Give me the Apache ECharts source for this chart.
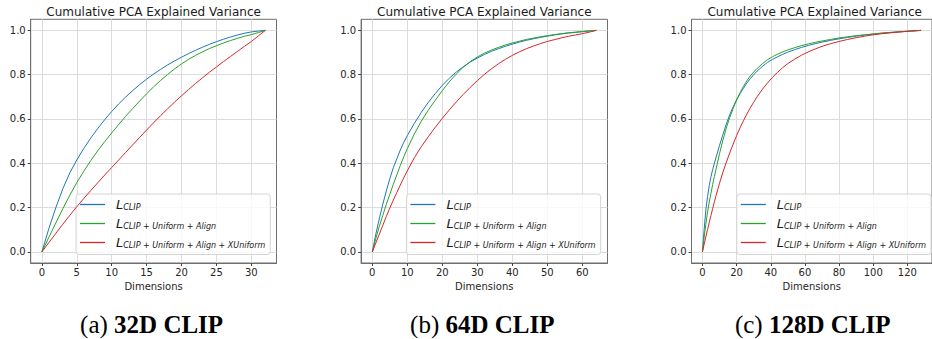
<!DOCTYPE html>
<html><head><meta charset="utf-8">
<script src="https://cdn.jsdelivr.net/npm/echarts@6/dist/echarts.min.js"></script>
<style>html,body{margin:0;padding:0;background:#fff}#c{width:932px;height:339px}</style>
</head><body><div id="c"></div>
<script>
const chartTitle = 'Cumulative PCA Explained Variance';
const xName = 'Dimensions';
const seriesNames = ['CLIP', 'CLIP + Uniform + Align', 'CLIP + Uniform + Align + XUniform'];
const colors = ['#1f77b4', '#2ca02c', '#d62728'];
const yTicks = [0, 0.2, 0.4, 0.6, 0.8, 1.0];
const xTicks32 = [0, 5, 10, 15, 20, 25, 30];
const xTicks64 = [0, 10, 20, 30, 40, 50, 60];
const xTicks128 = [0, 20, 40, 60, 80, 100, 120];
const captionTag = ['(a)', '(b)', '(c)'];
const captionText = ['32D CLIP', '64D CLIP', '128D CLIP'];

const dims32 = [0,1,2,3,4,5,6,7,8,9,10,11,12,13,14,15,16,17,18,19,20,21,22,23,24,25,26,27,28,29,30,31,32];
const clip32 = [0,0.105,0.2,0.285,0.357,0.415,0.467,0.514,0.557,0.597,0.634,0.668,0.699,0.728,0.755,0.78,0.803,0.824,0.844,0.862,0.879,0.895,0.91,0.924,0.937,0.949,0.96,0.97,0.979,0.987,0.993,0.997,1.0];
const ua32 = [0,0.066,0.131,0.195,0.256,0.313,0.364,0.412,0.457,0.498,0.537,0.575,0.612,0.647,0.681,0.714,0.745,0.774,0.801,0.826,0.849,0.869,0.887,0.903,0.918,0.931,0.943,0.954,0.964,0.973,0.981,0.99,1.0];
const xu32 = [0,0.042,0.084,0.125,0.165,0.204,0.241,0.277,0.312,0.347,0.381,0.415,0.449,0.483,0.517,0.55,0.583,0.615,0.646,0.676,0.705,0.733,0.76,0.786,0.811,0.835,0.859,0.882,0.905,0.928,0.95,0.975,1.0];

const dims64 = [0,1,2,3,4,5,6,7,8,9,10,12,14,16,18,20,22,24,26,28,30,32,34,36,38,40,42,44,46,48,50,52,54,56,58,60,62,64];
const clip64 = [0,0.08,0.15,0.215,0.275,0.33,0.38,0.42,0.46,0.495,0.525,0.58,0.63,0.675,0.715,0.752,0.784,0.812,0.836,0.857,0.875,0.891,0.905,0.917,0.928,0.938,0.947,0.955,0.962,0.968,0.974,0.979,0.984,0.988,0.991,0.994,0.997,1.0];
const ua64 = [0,0.06,0.115,0.165,0.215,0.26,0.305,0.348,0.39,0.43,0.466,0.532,0.59,0.64,0.685,0.728,0.768,0.803,0.834,0.859,0.88,0.897,0.911,0.923,0.934,0.943,0.951,0.959,0.965,0.971,0.976,0.981,0.985,0.989,0.992,0.995,0.998,1.0];
const xu64 = [0,0.04,0.08,0.12,0.16,0.198,0.234,0.268,0.302,0.335,0.366,0.425,0.475,0.52,0.563,0.603,0.641,0.677,0.711,0.743,0.773,0.801,0.826,0.849,0.869,0.887,0.903,0.917,0.929,0.94,0.95,0.958,0.966,0.973,0.979,0.985,0.992,1.0];

const dims128 = [0,1,2,3,4,5,6,7,8,10,12,14,16,18,20,22,24,26,28,30,32,35,38,41,44,47,50,54,58,62,66,70,75,80,85,90,95,100,105,110,116,122,128];
const clip128 = [0,0.1,0.19,0.25,0.3,0.34,0.372,0.4,0.428,0.48,0.53,0.577,0.62,0.655,0.686,0.714,0.739,0.762,0.782,0.8,0.816,0.837,0.855,0.869,0.881,0.892,0.902,0.913,0.923,0.932,0.94,0.947,0.955,0.962,0.968,0.974,0.979,0.983,0.987,0.99,0.994,0.997,1.0];
const ua128 = [0,0.065,0.125,0.18,0.225,0.265,0.305,0.34,0.375,0.443,0.505,0.56,0.607,0.648,0.686,0.718,0.747,0.772,0.794,0.812,0.828,0.849,0.867,0.881,0.893,0.903,0.912,0.922,0.931,0.939,0.946,0.952,0.959,0.966,0.971,0.976,0.98,0.984,0.988,0.991,0.994,0.997,1.0];
const xu128 = [0,0.034,0.068,0.101,0.133,0.165,0.196,0.226,0.255,0.31,0.36,0.405,0.447,0.487,0.525,0.56,0.592,0.622,0.65,0.676,0.70,0.733,0.762,0.788,0.811,0.832,0.85,0.87,0.888,0.903,0.916,0.928,0.94,0.95,0.959,0.967,0.974,0.98,0.985,0.989,0.993,0.997,1.0];

const panels = [
  {dims: dims32, vals: [clip32, ua32, xu32], xTicks: xTicks32, xRange: [-1.6, 33.6]},
  {dims: dims64, vals: [clip64, ua64, xu64], xTicks: xTicks64, xRange: [-3.2, 67.2]},
  {dims: dims128, vals: [clip128, ua128, xu128], xTicks: xTicks128, xRange: [-6.4, 134.4]}
];
const gridBoxes = [
  {left: 30.7, top: 19.3, width: 245.8, height: 243.7},
  {left: 361.1, top: 19.3, width: 246.4, height: 243.7},
  {left: 691.5, top: 19.3, width: 246.4, height: 243.7}
];

const FONT = 'DejaVu Sans';
const frameColor = '#6f6f6f';
const gridColor = '#dcdcdc';
const labelColor = '#262626';

const chart = echarts.init(document.getElementById('c'), null, {renderer: 'svg', width: 932, height: 339});

const grids = gridBoxes.map(g => ({left: g.left, top: g.top, width: g.width, height: g.height,
  show: true, borderColor: frameColor, borderWidth: 1, containLabel: false}));

const xAxes = panels.map((p, i) => ({
  type: 'value', gridIndex: i, min: p.xRange[0], max: p.xRange[1],
  name: xName, nameLocation: 'middle', nameGap: 14,
  nameTextStyle: {fontFamily: FONT, fontSize: 10, color: labelColor},
  axisLine: {show: true, onZero: false, lineStyle: {color: frameColor, width: 1}},
  axisTick: {show: true, length: 3, customValues: p.xTicks, lineStyle: {color: '#444', width: 1}},
  axisLabel: {customValues: p.xTicks, margin: 4, fontFamily: FONT, fontSize: 10, color: labelColor,
    formatter: v => String(v)},
  splitLine: {show: true, customValues: p.xTicks, lineStyle: {color: gridColor, width: 1}}
}));

const yAxes = panels.map((p, i) => ({
  type: 'value', gridIndex: i, min: -0.05, max: 1.05,
  axisLine: {show: true, onZero: false, lineStyle: {color: frameColor, width: 1}},
  axisTick: {show: true, length: 3, customValues: yTicks, lineStyle: {color: '#444', width: 1}},
  axisLabel: {customValues: yTicks, margin: 5, fontFamily: FONT, fontSize: 10, color: labelColor,
    formatter: v => v.toFixed(1)},
  splitLine: {show: true, customValues: yTicks, lineStyle: {color: gridColor, width: 1}}
}));

const series = [];
panels.forEach((p, i) => {
  p.vals.forEach((vals, k) => {
    series.push({
      type: 'line', name: seriesNames[k], xAxisIndex: i, yAxisIndex: i,
      data: p.dims.map((d, j) => [d, vals[j]]),
      symbol: 'none', smooth: false, silent: true, animation: false,
      lineStyle: {color: colors[k], width: 1}, itemStyle: {color: colors[k]}, z: 3 + k
    });
  });
});

const legendRich = {
  L: {fontFamily: FONT, fontStyle: 'italic', fontSize: 13, color: '#1a1a1a', padding: [0, 0, 0, 6], lineHeight: 16},
  s: {fontFamily: FONT, fontStyle: 'italic', fontSize: 8, color: '#1a1a1a', padding: [6, 0, 0, 0]},
  p: {fontFamily: FONT, fontSize: 8, color: '#1a1a1a', padding: [6, 0, 0, 0]}
};
const legends = gridBoxes.map((g, i) => ({
  orient: 'vertical', left: g.left + 45.3, top: 194,
  data: seriesNames.map((n, k) => ({name: n, icon: 'rect', itemStyle: {color: colors[k]}})),
  selectedMode: false,
  icon: 'rect', itemWidth: 25, itemHeight: 1.3, itemGap: 5.5,
  padding: [4, 5, 5, 4],
  backgroundColor: 'rgba(255,255,255,0.8)', borderColor: '#d4d4d4', borderWidth: 1, borderRadius: 3,
  formatter: name => '{L|L}' + name.split(' + ').map(t => '{s|' + t + '}').join('{p| + }'),
  textStyle: {rich: legendRich}
}));

const graphics = [];
gridBoxes.forEach((g, i) => {
  graphics.push({type: 'text', x: g.left + g.width / 2, y: 12, silent: true,
    style: {text: chartTitle, fontFamily: FONT, fontSize: 12, fill: '#1a1a1a', align: 'center', verticalAlign: 'middle'}});
  graphics.push({type: 'text', x: g.left + g.width / 2 - 2, y: 324, silent: true,
    style: {text: '{n|' + captionTag[i] + ' }{b|' + captionText[i] + '}', align: 'center', verticalAlign: 'middle',
      rich: {n: {fontFamily: 'Liberation Serif', fontSize: 25, fill: '#000'},
             b: {fontFamily: 'Liberation Serif', fontSize: 25, fontWeight: 'bold', fill: '#000'}}}});
});

chart.setOption({
  animation: false,
  backgroundColor: '#ffffff',
  grid: grids, xAxis: xAxes, yAxis: yAxes, series: series,
  legend: legends, graphic: graphics
});
</script></body></html>
